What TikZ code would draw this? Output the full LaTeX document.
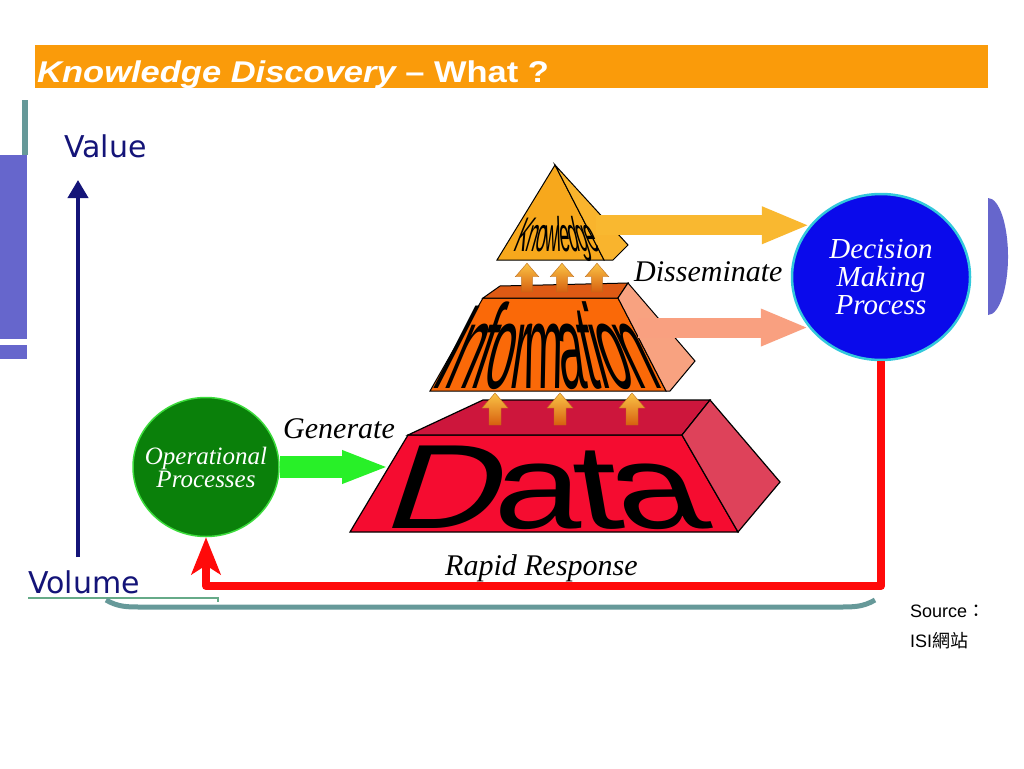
\documentclass[tikz,border=0pt]{standalone}
\usepackage{fontspec}
\setmainfont{Liberation Serif}
\newfontfamily\arial{Liberation Sans}
\newfontfamily\comic{DejaVu Sans}
\newfontfamily\cjk{Noto Sans CJK TC}
\usetikzlibrary{arrows.meta,shapes.geometric}
\definecolor{ttlorange}{RGB}{250,155,10}
\definecolor{sidepurple}{RGB}{102,102,204}
\definecolor{sideteal}{RGB}{102,153,153}
\definecolor{lineteal}{RGB}{102,170,136}
\definecolor{axisnavy}{RGB}{20,20,120}
\definecolor{datafront}{RGB}{245,12,48}
\definecolor{datatop}{RGB}{205,22,60}
\definecolor{dataside}{RGB}{222,66,90}
\definecolor{infofront}{RGB}{250,105,8}
\definecolor{infotop}{RGB}{222,90,20}
\definecolor{infoside}{RGB}{248,162,128}
\definecolor{knowfront}{RGB}{247,168,28}
\definecolor{knowside}{RGB}{249,180,45}
\definecolor{yarrow}{RGB}{249,184,48}
\definecolor{sarrow}{RGB}{249,160,128}
\definecolor{opgreen}{RGB}{10,128,10}
\definecolor{opedge}{RGB}{60,220,60}
\definecolor{garrow}{RGB}{40,240,40}
\definecolor{dmblue}{RGB}{10,10,235}
\definecolor{dmedge}{RGB}{50,200,220}
\definecolor{fbred}{RGB}{255,10,10}
\definecolor{uptop}{RGB}{250,196,70}
\definecolor{upbot}{RGB}{215,95,15}
\definecolor{upedge}{RGB}{190,110,30}
\begin{document}
\begin{tikzpicture}[x=1pt, y=-1pt,
    lbl/.style={inner sep=0, anchor=base west, font=\itshape\fontsize{30}{30}\selectfont},
    axlbl/.style={inner sep=0, anchor=base west, text=axisnavy, font=\comic\fontsize{30}{30}\selectfont},
    infoch/.style={inner sep=0, anchor=base, yscale=2.55, font=\arial\fontsize{47}{47}\selectfont},
    knowch/.style={inner sep=0, anchor=base, yscale=2.7, font=\arial\fontsize{18}{18}\selectfont},
    datach/.style={inner sep=0, anchor=base, xscale=1.32, font=\arial\fontsize{120}{120}\selectfont},
    bigar/.style={line width=20pt, -{Triangle[length=48pt, width=34pt]}},
    uparr/.pic={\shade[top color=uptop, bottom color=upbot, draw=upedge, line width=0.4pt]
        (-6,0) -- (-6,-17) -- (-13,-17) -- (0,-32) -- (13,-17) -- (6,-17) -- (6,0) -- cycle;}]
%page
    \fill[white] (0,0) rectangle (1024,768);
    \fill[ttlorange] (35,45) rectangle (988,88);
    \node[inner sep=0, anchor=base west, text=white, xscale=1.15, font=\arial\bfseries\fontsize{30}{30}\selectfont] (ttl) at (37,82) {\itshape Knowledge Discovery \upshape – What ?};
    \fill[sideteal] (22,100) rectangle (28,155);
    \fill[sidepurple] (0,155) rectangle (27,339); \fill[sidepurple] (0,345) rectangle (27,359);
    \fill[sidepurple] (988,198) arc[start angle=-90, end angle=90, x radius=20, y radius=58.5] -- cycle;
    \draw[lineteal, line width=1.2pt] (28,598) -- (218,598) -- (218,602);
    \draw[sideteal, line width=5pt] (106,600) to[out=-30, in=180] (140,607) -- (840,607) to[out=0, in=-150] (875,600);
%coordinate
    \coordinate (dtl) at (408,435); \coordinate (dtr) at (682,435);
    \coordinate (dbr) at (738,532); \coordinate (dbl) at (350,532);
    \coordinate (dkl) at (483,400); \coordinate (dkr) at (710,400); \coordinate (dsr) at (780,482);
    \coordinate (ifl) at (483,298); \coordinate (ifr) at (618,298);
    \coordinate (ibr) at (666,391); \coordinate (ibl) at (430,391);
    \coordinate (itl) at (500,286); \coordinate (itr) at (628,283);
    \coordinate (isr) at (695,361); \coordinate (isb) at (670,391);
    \coordinate (ka) at (555,165); \coordinate (kl) at (497,260); \coordinate (kr) at (604,260);
    \coordinate (ks) at (628,245); \coordinate (kb) at (613,260);
    \coordinate (ax0) at (78,557); \coordinate (ax1) at (78,180);
    \coordinate (gend) at (389,467); \coordinate (fb) at (0,586);
    \coordinate (kna) at (596,0); \coordinate (ina) at (638,0);
%axis
    \draw[axisnavy, line width=4pt, -{Triangle[length=18pt, width=20pt]}] (ax0) -- (ax1);
    \node[axlbl] (val) at (64,157) {Value};
    \node[axlbl] (vol) at (28,593) {Volume};
%data
    \filldraw[datafront, draw=black, line width=1.2pt] (dtl) -- (dtr) -- (dbr) -- (dbl) -- cycle;
    \filldraw[datatop, draw=black, line width=1.2pt] (dtl) -- (dkl) -- (dkr) -- (dtr) -- cycle;
    \filldraw[dataside, draw=black, line width=1.2pt] (dtr) -- (dkr) -- (dsr) -- (dbr) -- cycle;
    \node[datach, xslant=0.25] (d1) at (437,528) {D}; \node[datach, xslant=0.02] (d2) at (538,528) {a};
    \node[datach, xslant=-0.13] (d3) at (604,528) {t}; \node[datach, xslant=-0.28] (d4) at (670,528) {a};
    \pic at (495,425) {uparr}; \pic at (560,425) {uparr}; \pic at (632,425) {uparr};
%information
    \filldraw[infofront, draw=black, line width=1pt] (ifl) -- (ifr) -- (ibr) -- (ibl) -- cycle;
    \filldraw[infotop, draw=black, line width=1pt] (ifl) -- (itl) -- (itr) -- (ifr) -- cycle;
    \filldraw[infoside, draw=black, line width=1pt] (ifr) -- (itr) -- (isr) -- (isb) -- (ibr) -- cycle;
    \node[infoch, xslant=1.30] (i1) at (436.5,388) {I}; \node[infoch, xslant=1.07] (i2) at (456,388) {n};
    \node[infoch, xslant=0.84] (i3) at (475.5,388) {f}; \node[infoch, xslant=0.61] (i4) at (495,388) {o};
    \node[infoch, xslant=0.38] (i5) at (516,388) {r}; \node[infoch, xslant=0.05] (i6) at (543.5,388) {m};
    \node[infoch, xslant=-0.33] (i7) at (576,388) {a}; \node[infoch, xslant=-0.56] (i8) at (596,388) {t};
    \node[infoch, xslant=-0.69] (i9) at (607.5,388) {i}; \node[infoch, xslant=-0.92] (i10) at (626,388) {o};
    \node[infoch, xslant=-1.20] (i11) at (652,388) {n};
    \pic[scale=0.9] at (527,292) {uparr}; \pic[scale=0.9] at (562,292) {uparr}; \pic[scale=0.9] at (597,292) {uparr};
%knowledge
    \filldraw[knowfront, draw=black, line width=1pt] (ka) -- (kl) -- (kr) -- cycle;
    \filldraw[knowside, draw=black, line width=1pt] (ka) -- (ks) -- (kb) -- (kr) -- cycle;
    \node[knowch, xslant=1.08] (k1) at (518,251) {K}; \node[knowch, xslant=0.76] (k2) at (529,251) {n};
    \node[knowch, xslant=0.49] (k3) at (539,251) {o}; \node[knowch, xslant=0.16] (k4) at (550.5,251) {w};
    \node[knowch, xslant=-0.08] (k5) at (559,251) {l}; \node[knowch, xslant=-0.30] (k6) at (566,251) {e};
    \node[knowch, xslant=-0.57] (k7) at (576,251) {d}; \node[knowch, xslant=-0.86] (k8) at (586,251) {g};
    \node[knowch, xslant=-1.13] (k9) at (596,251) {e};
%circles
    \node[ellipse, draw=dmedge, line width=2.5pt, fill=dmblue, minimum width=178pt, minimum height=166pt, inner sep=0, text=white, align=center, font=\itshape\fontsize{29}{28}\selectfont] (dmp) at (881,277) {Decision\\Making\\Process};
    \node[ellipse, draw=opedge, line width=1.5pt, fill=opgreen, minimum width=146pt, minimum height=139pt, inner sep=0] (oper) at (206,467) {};
    \node[inner sep=0, text=white, align=center, font=\itshape\fontsize{25}{23}\selectfont] (opertxt) at (oper.center) {Operational\\Processes};
%arrows
    \draw[bigar, yarrow] (dmp.144 -| kna) -- (dmp.144);
    \draw[bigar, sarrow] (dmp.215 -| ina) -- (dmp.215);
    \draw[garrow, line width=22pt, -{Triangle[length=47pt, width=30pt]}] (oper) -- (gend);
    \draw[fbred, line width=8pt, line join=round, -{Stealth[length=37pt, width=29pt, inset=9pt]}] (dmp.south) -- (dmp.south |- fb) -| (oper.south);
%labels
    \node[lbl] (gen) at (283,438) {Generate};
    \node[lbl] (dis) at (634,281) {Disseminate};
    \node[lbl] (rr) at (445,575) {Rapid Response};
    \node[inner sep=0, anchor=base west, font=\arial\fontsize{18}{18}\selectfont] (src1) at (910,617) {Source{\cjk ：}};
    \node[inner sep=0, anchor=base west, font=\arial\fontsize{18}{18}\selectfont] (src2) at (910,647) {ISI{\cjk 網站}};
\end{tikzpicture}
\end{document}
